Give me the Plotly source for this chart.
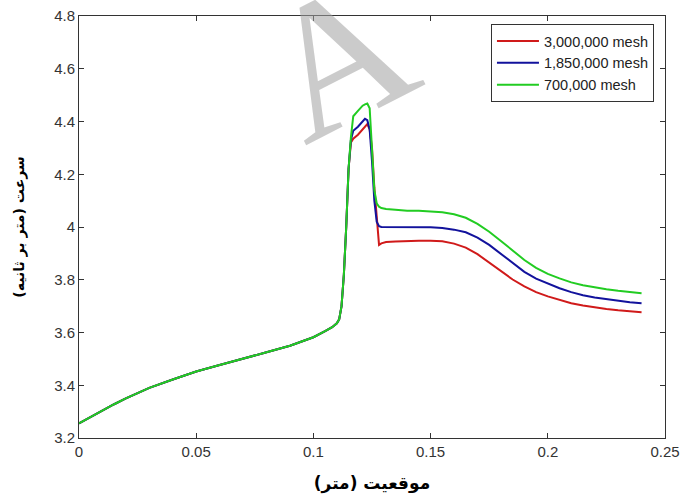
import plotly.graph_objects as go

# Position along the channel (m)
position = [0, 0.005, 0.01, 0.015, 0.02, 0.03, 0.04, 0.05, 0.06, 0.07, 0.08, 0.09,
            0.1, 0.105, 0.108, 0.11, 0.111, 0.112, 0.113, 0.114, 0.115, 0.116,
            0.117, 0.119, 0.121, 0.122, 0.123, 0.124, 0.125, 0.126, 0.127, 0.128,
            0.129, 0.131, 0.135, 0.14, 0.145, 0.15, 0.155, 0.16, 0.165, 0.17,
            0.175, 0.18, 0.185, 0.19, 0.195, 0.2, 0.205, 0.21, 0.215, 0.22,
            0.225, 0.23, 0.235, 0.24]

# Velocity (m/s) for each mesh resolution
vel_3000k = [3.255, 3.28, 3.305, 3.328, 3.35, 3.39, 3.422, 3.452, 3.477, 3.50, 3.525, 3.55,
             3.582, 3.605, 3.62, 3.635, 3.65, 3.70, 3.82, 4.00, 4.22, 4.32,
             4.335, 4.35, 4.37, 4.38, 4.39, 4.37, 4.30, 4.15, 4.02, 3.932,
             3.938, 3.943, 3.945, 3.947, 3.948, 3.948, 3.946, 3.937, 3.922, 3.897,
             3.866, 3.833, 3.801, 3.775, 3.753, 3.737, 3.724, 3.711, 3.702, 3.695,
             3.689, 3.684, 3.68, 3.677]

vel_1850k = [3.255, 3.28, 3.305, 3.328, 3.35, 3.39, 3.422, 3.452, 3.477, 3.50, 3.525, 3.55,
             3.582, 3.605, 3.62, 3.635, 3.65, 3.70, 3.82, 4.00, 4.22, 4.33,
             4.365, 4.38, 4.40, 4.41, 4.405, 4.37, 4.25, 4.10, 4.02, 4.003,
             4.0, 4.0, 3.998, 4.0, 4.0, 3.999, 3.996, 3.99, 3.98, 3.96,
             3.932, 3.898, 3.862, 3.83, 3.804, 3.785, 3.768, 3.753, 3.741, 3.733,
             3.727, 3.72, 3.715, 3.711]

vel_700k = [3.255, 3.28, 3.305, 3.328, 3.35, 3.39, 3.422, 3.452, 3.477, 3.50, 3.525, 3.55,
            3.582, 3.605, 3.62, 3.635, 3.65, 3.70, 3.82, 4.00, 4.22, 4.34,
            4.42, 4.44, 4.46, 4.465, 4.468, 4.45, 4.30, 4.14, 4.09, 4.077,
            4.072, 4.068, 4.065, 4.062, 4.062, 4.06, 4.056, 4.048, 4.035, 4.012,
            3.982, 3.947, 3.91, 3.875, 3.845, 3.822, 3.805, 3.79, 3.779, 3.771,
            3.764, 3.758, 3.753, 3.749]

series_names = ["3,000,000 mesh", "1,850,000 mesh", "700,000 mesh"]
series_colors = ["#d01a1a", "#12129c", "#22cc22"]

x_ticks = [0, 0.05, 0.1, 0.15, 0.2, 0.25]
x_tick_text = ["0", "0.05", "0.1", "0.15", "0.2", "0.25"]
y_ticks = [3.2, 3.4, 3.6, 3.8, 4.0, 4.2, 4.4, 4.6, 4.8]
y_tick_text = ["3.2", "3.4", "3.6", "3.8", "4", "4.2", "4.4", "4.6", "4.8"]

fig = go.Figure()
for name, ys, color in zip(series_names, [vel_3000k, vel_1850k, vel_700k], series_colors):
    fig.add_trace(go.Scatter(x=position, y=ys, mode="lines", name=name,
                             line=dict(color=color, width=2)))

axis_common = dict(
    showline=True, linecolor="#333333", linewidth=1, mirror="ticks",
    ticks="inside", ticklen=5, tickcolor="#333333", tickwidth=1,
    showgrid=False, zeroline=False, automargin=False,
    tickfont=dict(family="Liberation Sans, Arial", size=15, color="#333333"),
)

fig.update_layout(
    width=680, height=501,
    margin=dict(l=79, r=15, t=16, b=63),
    paper_bgcolor="white", plot_bgcolor="white",
    xaxis=dict(range=[0, 0.25], tickvals=x_ticks, ticktext=x_tick_text,
               title=dict(text="<b>موقعیت (متر)</b>", standoff=18,
                          font=dict(family="DejaVu Sans", size=17, color="black")),
               **axis_common),
    yaxis=dict(range=[3.2, 4.8], tickvals=y_ticks, ticktext=y_tick_text,
               title=dict(text="<b>سرعت (متر بر ثانیه)</b>", standoff=26,
                          font=dict(family="DejaVu Sans", size=14, color="black")),
               **axis_common),
    legend=dict(x=0.703, y=0.981, xanchor="left", yanchor="top", itemwidth=42,
                bgcolor="white", bordercolor="#333333", borderwidth=1,
                font=dict(family="Liberation Sans, Arial", size=14.5, color="#222222")),
    showlegend=True,
)

# Faint watermark letter across the top of the plot
fig.add_annotation(text="A", xref="paper", yref="paper",
                   x=(336 - 79) / 586, y=(438 - 58) / 422,
                   xanchor="center", yanchor="middle",
                   showarrow=False, textangle=-27,
                   font=dict(family="Liberation Serif", size=190,
                             color="rgba(160,160,160,0.55)"))

fig.write_html("out.html")
